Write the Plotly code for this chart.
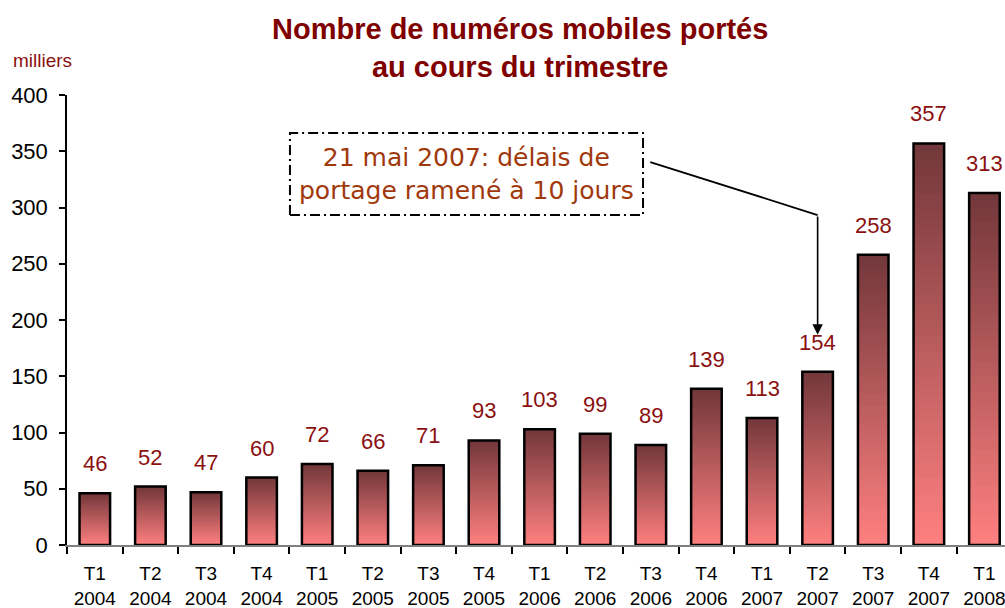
import plotly.graph_objects as go

quarters = ["T1", "T2", "T3", "T4", "T1", "T2", "T3", "T4", "T1", "T2", "T3", "T4",
            "T1", "T2", "T3", "T4", "T1"]
years = ["2004", "2004", "2004", "2004", "2005", "2005", "2005", "2005",
         "2006", "2006", "2006", "2006", "2007", "2007", "2007", "2007", "2008"]
values = [46, 52, 47, 60, 72, 66, 71, 93, 103, 99, 89, 139, 113, 154, 258, 357, 313]

categories = [f"{q}<br>{y}" for q, y in zip(quarters, years)]

TOP = (114, 55, 58)
BOTTOM = (255, 128, 128)
N = 48
BAR_W = 0.55
LABEL_RED = "#8B1010"

fig = go.Figure()

# vertical gradient: stacked overlays, each shorter and lighter
for k in range(N):
    f = (N - k) / N
    t = f - 0.5 / N  # position (0=bottom, 1=top)
    col = tuple(round(BOTTOM[i] + (TOP[i] - BOTTOM[i]) * t) for i in range(3))
    fig.add_trace(go.Bar(
        x=categories, y=[v * f for v in values], width=BAR_W,
        marker=dict(color=f"rgb{col}", line=dict(width=0)),
        hoverinfo="skip", showlegend=False))

# outline
fig.add_trace(go.Bar(
    x=categories, y=values, width=BAR_W,
    marker=dict(color="rgba(0,0,0,0)", line=dict(color="black", width=2.5)),
    showlegend=False))

plot_left, plot_w, plot_top, plot_h = 67, 938, 95, 450

def px_x(px):
    return (px - plot_left) / plot_w

def px_y(py):
    return (plot_top + plot_h - py) / plot_h

annotations = []
for c, v in zip(categories, values):
    annotations.append(dict(x=c, y=v, xref="x", yref="y", text=str(v),
                            showarrow=False, yanchor="bottom", yshift=15,
                            font=dict(family="Liberation Sans, Arial", size=22, color=LABEL_RED)))

# callout box text
annotations.append(dict(x=6.685, y=329.8, xref="x", yref="y",
                        text="21 mai 2007: délais de<br>portage ramené à 10 jours",
                        showarrow=False, xanchor="center", yanchor="middle",
                        font=dict(family="DejaVu Sans", size=25, color="#A0380C")))
# arrow down to T2 2007
annotations.append(dict(x=13, y=187, xref="x", yref="y", ax=13, ay=293.3,
                        axref="x", ayref="y", text="", showarrow=True,
                        arrowhead=2, arrowsize=1.3, arrowwidth=1.6, arrowcolor="black"))
# units label
annotations.append(dict(x=px_x(11), y=px_y(61), xref="paper", yref="paper", text="milliers",
                        showarrow=False, xanchor="left", yanchor="middle",
                        font=dict(family="Liberation Sans, Arial", size=19, color=LABEL_RED)))
# title
annotations.append(dict(x=px_x(520), y=px_y(11), xref="paper", yref="paper",
                        text="<b>Nombre de numéros mobiles portés<br>au cours du trimestre</b>",
                        showarrow=False, xanchor="center", yanchor="top",
                        font=dict(family="Liberation Sans, Arial", size=29, color="#800000")))

shapes = [
    dict(type="rect", xref="x", yref="y", x0=3.51, x1=9.86, y0=293.3, y1=366.2,
         line=dict(color="black", width=2, dash="10px,4px,2px,4px")),
    dict(type="line", xref="x", yref="y", x0=9.99, y0=340.4, x1=13, y1=293.3,
         line=dict(color="black", width=1.8)),
]

fig.update_layout(
    width=1005, height=608,
    margin=dict(l=67, r=0, t=95, b=63),
    barmode="overlay",
    plot_bgcolor="white", paper_bgcolor="white",
    xaxis=dict(type="category", range=[-0.5, 16.37], tickson="boundaries",
               ticks="outside", ticklen=7, tickcolor="black", tickwidth=1.5,
               ticklabelstandoff=10, automargin=False,
               showline=True, linecolor="#808080", linewidth=2,
               showgrid=False, zeroline=False,
               tickfont=dict(family="Liberation Sans, Arial", size=19, color="black")),
    yaxis=dict(range=[0, 400], dtick=50, ticks="outside", ticklen=6,
               tickcolor="black", tickwidth=1.5, ticklabelstandoff=7, automargin=False,
               showline=True, linecolor="black", linewidth=1.5,
               showgrid=False, zeroline=False,
               tickfont=dict(family="Liberation Sans, Arial", size=22, color="black")),
    annotations=annotations,
    shapes=shapes,
    showlegend=False,
)

fig.write_html("out.html", config={"displayModeBar": False},
               post_script="document.body.style.margin='0';document.body.style.overflow='hidden';")
